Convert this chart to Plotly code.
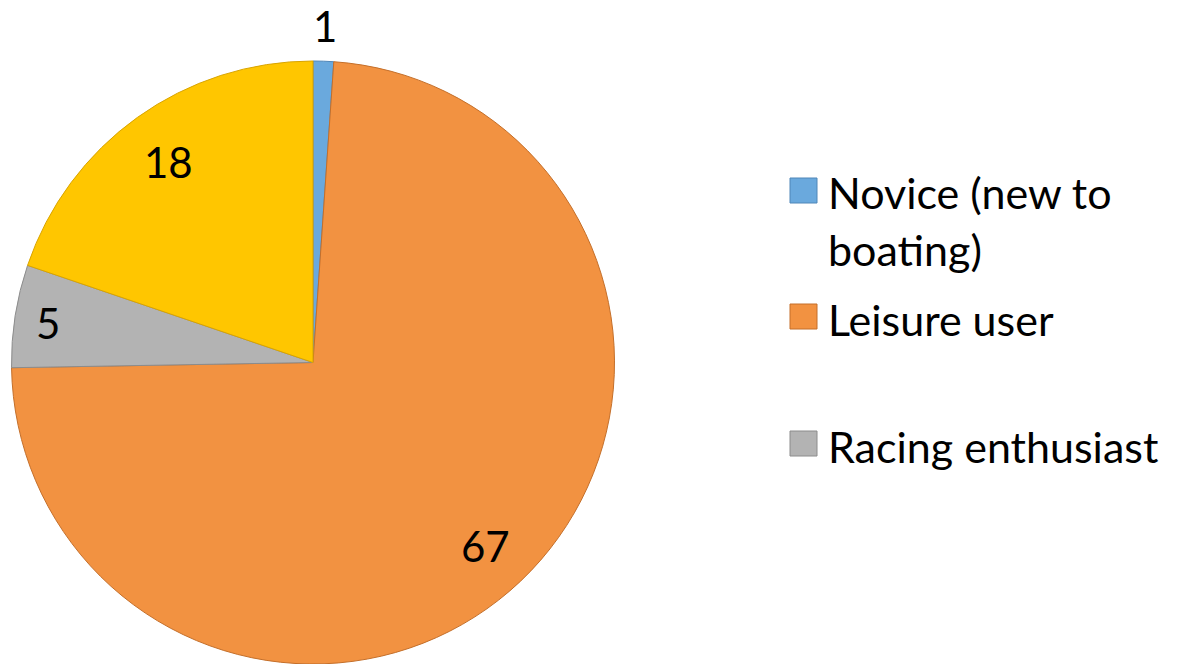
import math
import plotly.graph_objects as go

categories = ["Novice (new to boating)", "Leisure user", "Racing enthusiast", "Experienced"]
values = [1, 67, 5, 18]
legend_lines = [["Novice (new to", "boating)"], ["Leisure user"], ["Racing enthusiast"]]
fill_colors = ["#6AA9DD", "#F29241", "#B3B3B3", "#FFC600"]
line_colors = ["#4F86B8", "#C46F2A", "#8C8C8C", "#D9A400"]
label_radius = [1.125, 0.83, 0.89, 0.825]  # label distance as fraction of radius

W, H = 1178, 664
FONT = "Lato, 'Open Sans', sans-serif"

dom_x = [11 / W, 615 / W]
dom_y = [0, 1 - 61 / H]

fig = go.Figure()
fig.add_trace(go.Pie(
    labels=categories,
    values=values,
    sort=False,
    direction="clockwise",
    rotation=0,
    marker=dict(colors=fill_colors, line=dict(color=line_colors, width=1)),
    textinfo="none",
    domain=dict(x=dom_x, y=dom_y),
    showlegend=False,
    hoverinfo="label+value",
))

# data labels placed along each slice's bisector (from the values)
cx_px = (dom_x[0] + dom_x[1]) / 2 * W
cy_px = (dom_y[0] + dom_y[1]) / 2 * H
R_px = (dom_y[1] - dom_y[0]) * H / 2
total = sum(values)
annotations = []
cum = 0
for v, f in zip(values, label_radius):
    mid = (cum + v / 2) / total * 2 * math.pi
    cum += v
    x = cx_px + f * R_px * math.sin(mid)
    y = cy_px + f * R_px * math.cos(mid)
    annotations.append(dict(text=str(v), xref="paper", yref="paper",
                            x=x / W, y=y / H, xanchor="center", yanchor="middle",
                            yshift=-2, showarrow=False,
                            font=dict(family=FONT, size=42, color="black")))

# manual legend (only three entries visible in the reference)
rows = [(178, 203, [193, 250]), (304, 329, [320]), (431, 456, [447])]
shapes = []
for i, (lines, (y0, y1, ys)) in enumerate(zip(legend_lines, rows)):
    shapes.append(dict(type="rect", xref="paper", yref="paper",
                       x0=790 / W, x1=817 / W, y0=1 - y1 / H, y1=1 - y0 / H,
                       fillcolor=fill_colors[i], line=dict(color=line_colors[i], width=1)))
    for txt, yc in zip(lines, ys):
        annotations.append(dict(text=txt, xref="paper", yref="paper",
                                x=826 / W, y=1 - yc / H, xanchor="left", yanchor="middle",
                                yshift=1, showarrow=False,
                                font=dict(family=FONT, size=43, color="black")))

fig.update_layout(
    width=W, height=H,
    margin=dict(l=0, r=0, t=0, b=0),
    paper_bgcolor="white", plot_bgcolor="white",
    shapes=shapes, annotations=annotations,
)
fig.write_html("out.html", config={"displayModeBar": False},
               post_script="document.body.style.margin='0';")
